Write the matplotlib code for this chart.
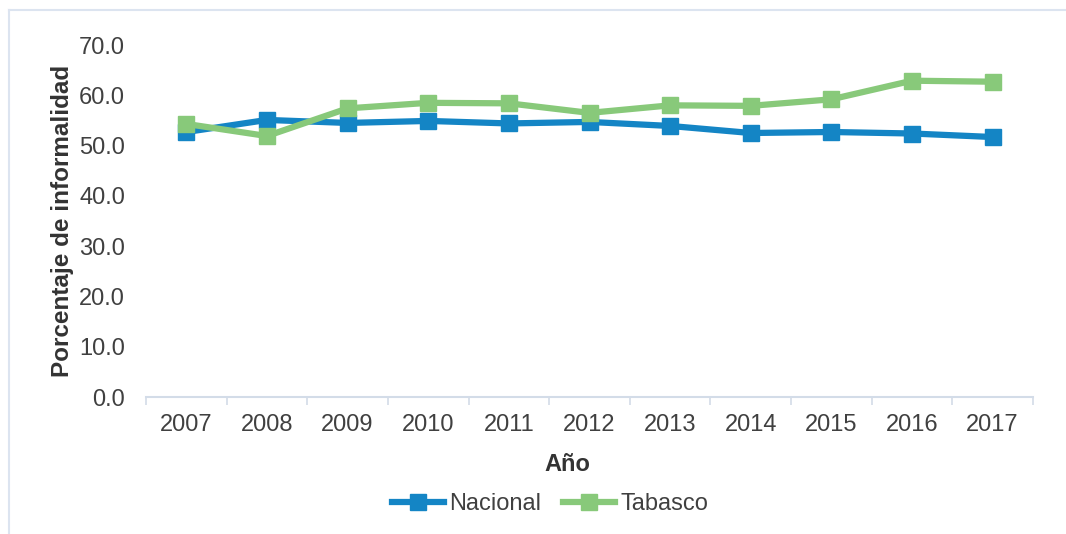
import matplotlib.pyplot as plt
from matplotlib.lines import Line2D
import numpy as np

plt.rcParams['font.family'] = ['Liberation Sans', 'DejaVu Sans']

years = ['2007', '2008', '2009', '2010', '2011', '2012', '2013', '2014', '2015', '2016', '2017']
nacional = [52.7, 55.1, 54.5, 54.9, 54.4, 54.7, 53.9, 52.5, 52.7, 52.4, 51.7]
tabasco = [54.3, 51.9, 57.4, 58.5, 58.4, 56.5, 58.0, 57.9, 59.2, 62.9, 62.7]

TEXT = '#404040'
AXIS = '#D3DCE8'
W, H = 1066, 534

fig = plt.figure(figsize=(W / 100, H / 100), dpi=100)
ax = fig.add_axes([146 / W, 1 - 397 / H, (1033 - 146) / W, (397 - 45) / H])

x = np.arange(len(years))
ax.plot(x, nacional, color='#1485C5', linewidth=4.5, marker='s', markersize=11,
        label='Nacional', solid_joinstyle='round')
ax.plot(x, tabasco, color='#88C97A', linewidth=4.5, marker='s', markersize=11,
        label='Tabasco', solid_joinstyle='round')

ax.set_xlim(-0.5, len(years) - 0.5)
ax.set_ylim(0, 70)
ax.set_yticks(np.arange(0, 71, 10))
ax.set_yticklabels([f'{v:.1f}' for v in range(0, 71, 10)])
ax.set_xticks(x)
ax.set_xticklabels(years)
ax.set_xticks(np.arange(-0.5, len(years)), minor=True)

for side in ['left', 'right', 'top']:
    ax.spines[side].set_visible(False)
ax.spines['bottom'].set_color(AXIS)
ax.spines['bottom'].set_linewidth(1.5)

ax.tick_params(axis='y', length=0, pad=15, labelsize=17, labelcolor=TEXT)
ax.tick_params(axis='x', which='major', length=0, pad=12, labelsize=17, labelcolor=TEXT)
ax.tick_params(axis='x', which='minor', length=6, width=1.2, color=AXIS)

ax.set_ylabel('Porcentaje de informalidad', fontsize=17.5, fontweight='bold',
              color='#333333', labelpad=4)
ax.set_xlabel('Año', fontsize=17, fontweight='bold', color='#333333')
ax.xaxis.set_label_coords((567 - 146) / (1033 - 146), -0.158)

leg = ax.legend(loc='center', bbox_to_anchor=((550 - 146) / (1033 - 146), -0.304), ncol=2,
                frameon=False, fontsize=17, handlelength=2.2, handletextpad=0.25,
                columnspacing=0.9)
for t in leg.get_texts():
    t.set_color(TEXT)

# light frame around the chart area
fig.add_artist(Line2D([8.5 / W, 8.5 / W], [0, 1 - 10 / H], color='#DCE4F0', linewidth=1.5))
fig.add_artist(Line2D([8.5 / W, 1], [1 - 10 / H, 1 - 10 / H], color='#DCE4F0', linewidth=1.5))

fig.savefig('out.png', dpi=100)
